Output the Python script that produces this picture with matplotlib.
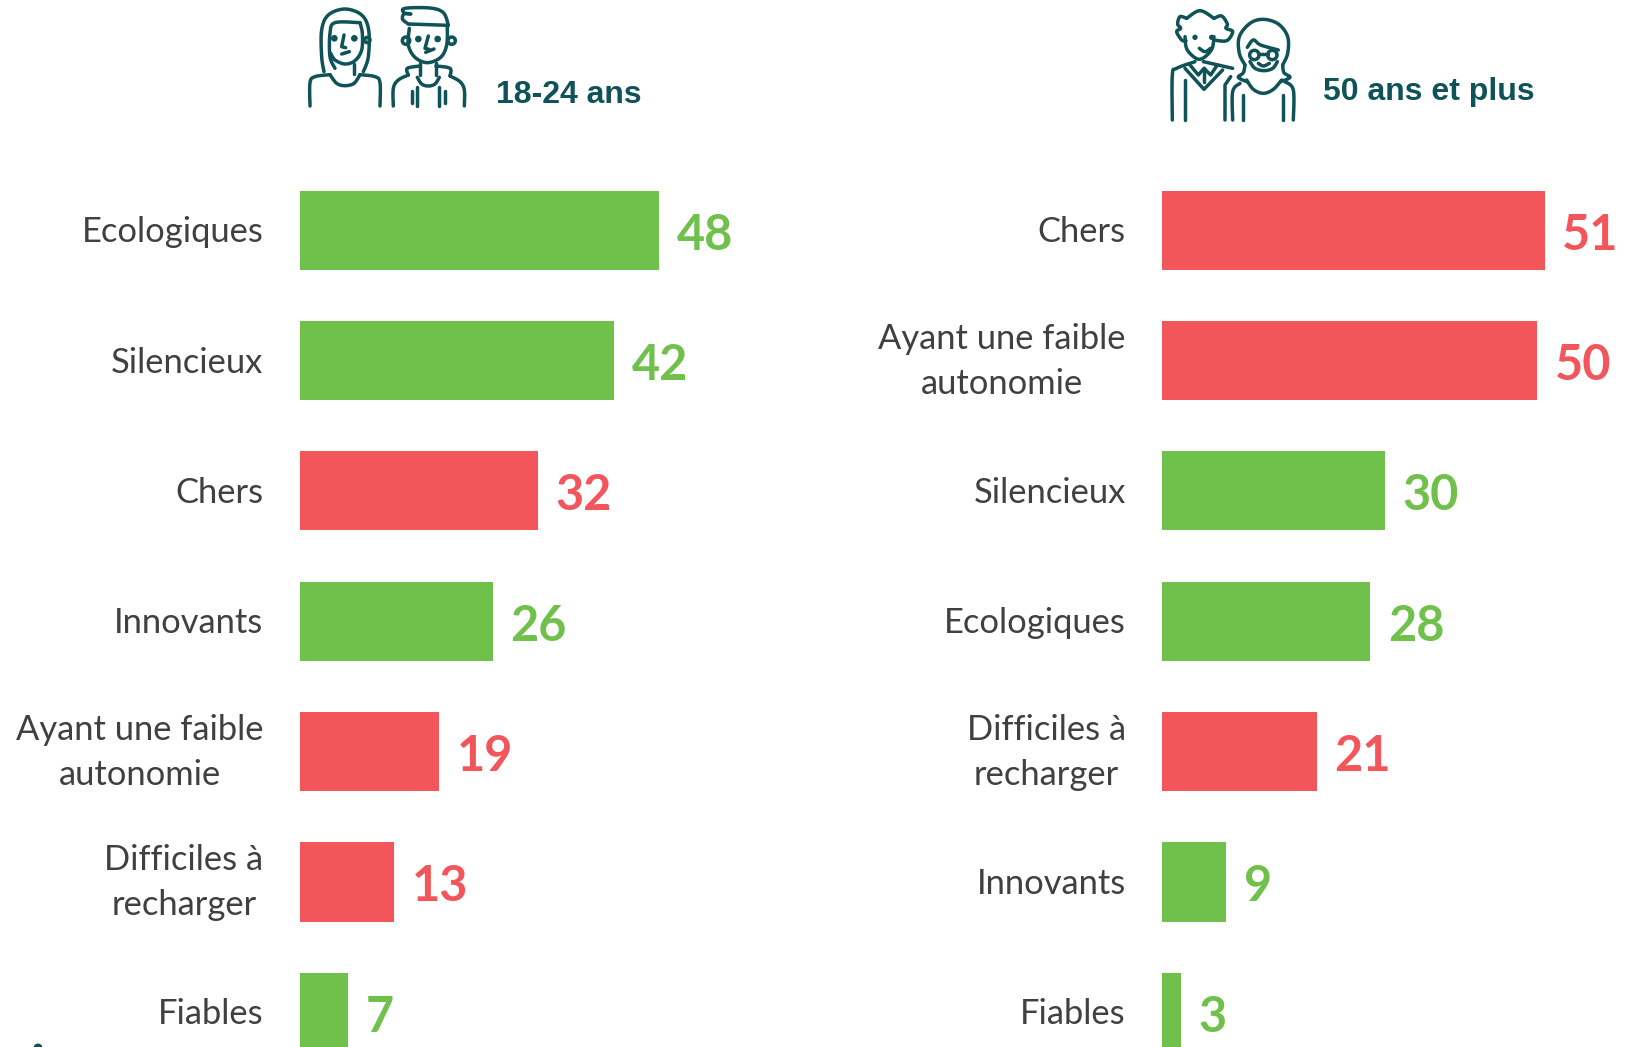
import numpy as np
import matplotlib
matplotlib.use("Agg")
import matplotlib.pyplot as plt
from matplotlib.patches import Circle
from matplotlib.transforms import ScaledTranslation

GREEN = "#70C04C"
RED = "#F2565A"
TEAL = "#0F5257"
GREY = "#404040"

# 18-24 ans
cats_young = ["Ecologiques", "Silencieux", "Chers", "Innovants",
              "Ayant une faible\nautonomie", "Difficiles à\nrecharger", "Fiables"]
vals_young = [48, 42, 32, 26, 19, 13, 7]
cols_young = [GREEN, GREEN, RED, GREEN, RED, RED, GREEN]

# 50 ans et plus
cats_old = ["Chers", "Ayant une faible\nautonomie", "Silencieux", "Ecologiques",
            "Difficiles à\nrecharger", "Innovants", "Fiables"]
vals_old = [51, 50, 30, 28, 21, 9, 3]
cols_old = [RED, RED, GREEN, GREEN, RED, GREEN, GREEN]

W, H = 1629, 1047
plt.rcParams["font.family"] = ["Lato", "DejaVu Sans"]
fig = plt.figure(figsize=(W / 100, H / 100), dpi=100)


def panel(x0, x1, cats, vals, cols):
    ax = fig.add_axes([x0 / W, 0, (x1 - x0) / W, 1])
    ax.barh(range(len(vals)), vals, height=0.607, color=cols)
    # the bars do not start at zero in the original, the axis begins near 0.55
    ax.set_xlim(0.55, 0.55 + (x1 - x0) / 7.585)
    # bar centres sit at 230.2 + 130.35 * i pixels from the top
    ax.set_ylim((H - 230.2) / 130.35, -230.2 / 130.35)
    ax.set_yticks(range(len(cats)))
    ax.set_yticklabels(cats, fontsize=24.8, color=GREY, multialignment="center", linespacing=1.5)
    ax.tick_params(axis="y", length=0, pad=26)
    # two-line labels sit too low otherwise
    for t in ax.get_yticklabels():
        up = 0.09 if "\n" in t.get_text() else 0.01
        t.set_transform(t.get_transform() + ScaledTranslation(0, up, fig.dpi_scale_trans))
    ax.xaxis.set_visible(False)
    for s in ax.spines.values():
        s.set_visible(False)
    ax.patch.set_alpha(0)
    labs = ax.bar_label(ax.containers[0], padding=13, fontsize=35, fontweight="bold")
    for t, c in zip(labs, cols):
        t.set_color(c)
        t.xyann = (12.6, -3.5)
    return ax


panel(299.5, 800, cats_young, vals_young, cols_young)
panel(1162, 1629, cats_old, vals_old, cols_old)

# overlay in pixels for the headers and the line-art icons
ov = fig.add_axes([0, 0, 1, 1])
ov.set_xlim(0, W)
ov.set_ylim(H, 0)
ov.axis("off")
ov.patch.set_alpha(0)


def smooth(pts, n=10):
    # catmull-rom through the points
    p = np.array(pts, dtype=float)
    p = np.vstack([p[:1], p, p[-1:]])
    out = []
    for i in range(1, len(p) - 2):
        for t in np.linspace(0, 1, n, endpoint=False):
            out.append(0.5 * (2 * p[i] + (p[i + 1] - p[i - 1]) * t
                              + (2 * p[i - 1] - 5 * p[i] + 4 * p[i + 1] - p[i + 2]) * t ** 2
                              + (3 * p[i] - p[i - 1] - 3 * p[i + 1] + p[i + 2]) * t ** 3))
    out.append(p[-2])
    return np.array(out)


def stroke(pts, ox, curve=True):
    p = smooth(pts) if curve else np.array(pts, dtype=float)
    ov.plot(ox + p[:, 0] / 3, p[:, 1] / 3, color=TEAL, lw=2.5,
            solid_capstyle="round", solid_joinstyle="round")


def ring(x, y, r, ox):
    ov.add_patch(Circle((ox + x / 3, y / 3), r / 3, fill=False, ec=TEAL, lw=2.5))


def dot(x, y, ox, r=10):
    ov.add_patch(Circle((ox + x / 3, y / 3), r / 3, fc=TEAL, ec="none"))


# woman, 18-24
ox = 280
stroke([(132, 215), (125, 170), (125, 90), (145, 45), (195, 27), (245, 45), (266, 90), (265, 170), (250, 215)], ox)
stroke([(165, 205), (150, 170), (150, 100), (165, 68), (240, 68)], ox)
stroke([(240, 68), (247, 100), (245, 150), (225, 182), (195, 192), (165, 180), (152, 160)], ox)
dot(163, 115, ox)
dot(223, 115, ox)
stroke([(192, 105), (185, 140), (197, 143)], ox, curve=False)
stroke([(185, 162), (208, 155)], ox, curve=False)
ring(262, 120, 8, ox)
stroke([(222, 192), (222, 222)], ox, curve=False)
stroke([(90, 318), (90, 248), (105, 230), (150, 224)], ox)
stroke([(150, 224), (170, 250), (195, 257), (222, 250), (240, 224)], ox)
stroke([(240, 224), (285, 230), (300, 248), (300, 318)], ox)

# man, 18-24
stroke([(385, 72), (368, 58), (372, 42), (392, 42)], ox)
stroke([(392, 42), (372, 38), (375, 25), (450, 24), (490, 38), (505, 75)], ox)
stroke([(385, 72), (505, 76)], ox, curve=False)
stroke([(388, 85), (385, 135), (405, 172), (442, 188), (482, 172), (500, 135), (502, 78)], ox)
ring(378, 122, 11, ox)
ring(515, 122, 11, ox)
dot(415, 117, ox)
dot(473, 117, ox)
stroke([(445, 108), (435, 145), (447, 148)], ox, curve=False)
stroke([(437, 157), (462, 147)], ox, curve=False)
stroke([(420, 188), (420, 225)], ox, curve=False)
stroke([(468, 188), (468, 225)], ox, curve=False)
stroke([(385, 225), (382, 205), (420, 198)], ox)
stroke([(468, 198), (510, 205), (510, 228)], ox)
stroke([(412, 232), (425, 252), (445, 258), (465, 252), (478, 232)], ox)
stroke([(340, 318), (340, 265), (355, 240), (385, 225)], ox)
stroke([(510, 228), (540, 245), (553, 270), (553, 318)], ox)
stroke([(411, 260), (411, 318)], ox, curve=False)
stroke([(477, 260), (477, 318)], ox, curve=False)
stroke([(395, 272), (395, 308)], ox, curve=False)
stroke([(495, 272), (495, 308)], ox, curve=False)

# old man, 50+
ox = 1140
stroke([(135, 110), (142, 150), (178, 178), (214, 150), (222, 110)], ox)
stroke([(140, 55), (180, 32), (222, 55)], ox)
stroke([(140, 55), (120, 50), (113, 72), (122, 85), (110, 95), (125, 120), (138, 122)], ox)
stroke([(222, 55), (245, 48), (262, 72), (258, 85), (278, 95), (260, 122), (222, 120)], ox)
dot(165, 112, ox, 8)
dot(215, 112, ox, 8)
stroke([(178, 145), (195, 155), (212, 145)], ox)
stroke([(97, 360), (97, 225), (110, 205), (165, 185)], ox)
stroke([(190, 185), (278, 205)], ox, curve=False)
stroke([(135, 205), (192, 268), (248, 210)], ox, curve=False)
stroke([(150, 195), (175, 225), (192, 205), (212, 225), (232, 195)], ox, curve=False)
stroke([(192, 205), (192, 245)], ox, curve=False)
stroke([(135, 240), (135, 360)], ox, curve=False)
stroke([(255, 360), (255, 255), (272, 230)], ox, curve=False)

# old woman, 50+
stroke([(315, 195), (298, 160), (298, 110), (330, 70), (370, 58), (415, 72), (443, 110), (443, 160), (428, 195)], ox)
stroke([(322, 142), (340, 120), (362, 135), (415, 150)], ox)
stroke([(330, 185), (345, 205), (372, 212), (398, 205), (412, 185)], ox)
ring(343, 165, 14, ox)
ring(397, 165, 14, ox)
stroke([(357, 163), (383, 163)], ox, curve=False)
stroke([(355, 190), (370, 198), (388, 190)], ox)
stroke([(315, 195), (310, 218), (295, 232), (320, 245)], ox)
stroke([(428, 195), (432, 218), (450, 232), (422, 245)], ox)
stroke([(320, 240), (340, 268), (370, 280), (400, 268), (425, 240)], ox)
stroke([(278, 360), (278, 275), (300, 250)], ox)
stroke([(435, 245), (460, 270), (460, 360)], ox)
stroke([(310, 285), (310, 360)], ox, curve=False)
stroke([(428, 285), (428, 360)], ox, curve=False)

ov.text(496, 103, "18-24 ans", family="Liberation Sans", fontweight="bold", fontsize=23,
        color=TEAL, ha="left", va="baseline")
ov.text(1323, 100, "50 ans et plus", family="Liberation Sans", fontweight="bold", fontsize=23,
        color=TEAL, ha="left", va="baseline")
# top of a cut-off dot at the lower left edge
ov.add_patch(Circle((38, 1048), 4.5, fc=TEAL, ec="none"))

fig.savefig("out.png", dpi=100)
plt.close(fig)
